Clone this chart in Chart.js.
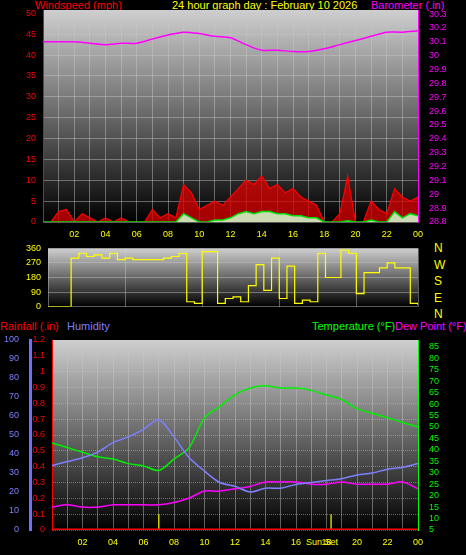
<!DOCTYPE html>
<html>
<head>
<meta charset="utf-8">
<script src="https://cdn.jsdelivr.net/npm/chart.js@4.4.1/dist/chart.umd.min.js"></script>
<style>
  body { margin: 0; background: #000; width: 466px; height: 555px; overflow: hidden; position: relative; font-family: "Liberation Sans", Arial, sans-serif; }
  canvas { position: absolute; left: 0; }
  .lbl { position: absolute; font-size: 11px; white-space: nowrap; line-height: 11px; }
</style>
</head>
<body>
<div class="lbl" style="left:35px;top:0;color:#ff0000">Windspeed (mph)</div>
<div class="lbl" style="left:172px;top:0;color:#ffff00">24 hour graph day : February 10 2026</div>
<div class="lbl" style="left:371px;top:0;color:#ff00ff">Barometer (.in)</div>
<div class="lbl" style="left:434px;top:240px;color:#ffff00;line-height:16.5px;font-size:12px">N<br>W<br>S<br>E<br>N</div>
<div class="lbl" style="left:0;top:321px;color:#ff0000">Rainfall (.in)</div>
<div class="lbl" style="left:67px;top:321px;color:#7f7fff">Humidity</div>
<div class="lbl" style="left:312px;top:321px;color:#00ff00">Temperature (°F)</div>
<div class="lbl" style="left:395px;top:321px;color:#ff00ff">Dew Point (°F)</div>
<div class="lbl" style="left:306px;top:537px;color:#ffff00;font-size:9px">Sun Set</div>

<canvas id="c1" width="466" height="240" style="top:0"></canvas>
<canvas id="c2" width="466" height="75" style="top:240px"></canvas>
<canvas id="c3" width="466" height="230" style="top:325px"></canvas>

<script>
// Data
const halfHours = [];
for (let i = 0; i <= 48; i++) halfHours.push(i / 2);
const hours = [0,1,2,3,4,5,6,7,8,9,10,11,12,13,14,15,16,17,18,19,20,21,22,23,24];

const windGust = [0,0,2.5,3,0,2,1,0,1,0,1,0,0,0,3,1,2,1,9,7,3,4,5,4,6,8,10,9,11,8,9,7,8,6,5,4,0,0,2,11,0,0,5,3,2,8,6,5,6];
const windAvg = [0,0,0,0,0,0,0,0,0,0,0,0,0,0,0,0,0,0,2,1,0,0,0.5,0.5,1,2,2.5,2,2.5,2.5,2,2,1.5,1.5,1,1,0,0,0,0.3,0,0,0.5,0,0,2.5,1,2,1.5];
const baro = [30.1,30.1,30.1,30.09,30.08,30.09,30.09,30.12,30.15,30.17,30.16,30.14,30.13,30.08,30.04,30.04,30.03,30.03,30.05,30.08,30.11,30.14,30.17,30.17,30.18];
const windDir = [0,0,0,300,330,310,320,300,330,290,300,290,290,290,290,300,310,330,30,20,340,340,20,50,60,30,130,260,100,300,50,250,20,40,30,330,180,180,350,330,80,210,210,240,270,240,240,20,10];
const humidity = [34,36,38,41,46,49,53,58,49,38,31,25,23,20,22,22,24,25,26,27,29,30,32,33,35];
const temperature = [43,41,39,37,36,34,33,31,36,41,54,59,64,67,68,67,67,66,64,62,58,56,54,52,50];
const dewPoint = [15,16,15,15,16,16,16,16,17,19,22,22,23,24,26,26,26,25,25,26,25,25,25,26,23];
const rainfall = [0,0,0,0,0,0,0,0,0,0,0,0,0,0,0,0,0,0,0,0,0,0,0,0,0];
const sunMarks = [7.0, 18.3];

const windTicks = [0,5,10,15,20,25,30,35,40,45,50];
const baroTicks = [28.8,28.9,29,29.1,29.2,29.3,29.4,29.5,29.6,29.7,29.8,29.9,30,30.1,30.2,30.3];
const dirTicks = [0,90,180,270,360];
const rainTicks = [0,0.1,0.2,0.3,0.4,0.5,0.6,0.7,0.8,0.9,1,1.1,1.2];
const humTicks = [0,10,20,30,40,50,60,70,80,90,100];
const tempTicks = [5,10,15,20,25,30,35,40,45,50,55,60,65,70,75,80,85];

const pts = (xs, ys) => ys.map((y, i) => ({ x: xs[i], y }));
const font = { family: "Liberation Sans, Arial, sans-serif", size: 9 };

const bgPlugin = {
  id: "bg",
  beforeDraw(chart) {
    const a = chart.chartArea, ctx = chart.ctx;
    const g = ctx.createLinearGradient(0, a.top, 0, a.bottom);
    g.addColorStop(0, "#cfcfcf");
    g.addColorStop(1, "#000000");
    ctx.save();
    ctx.fillStyle = g;
    ctx.fillRect(a.left, a.top, a.right - a.left, a.bottom - a.top);
    ctx.restore();
  }
};

function fixW(w) { return s => { s.width = w; }; }
function fixH(h) { return s => { s.height = h; }; }
function useTicks(list) { return s => { s.ticks = list.map(v => ({ value: v })); }; }

const grid = { color: "rgba(200,200,200,0.45)", tickLength: 4, tickColor: "rgba(0,0,0,0)" };
const yAxis = (min, max, list, color, pos, w, showGrid) => ({
  min, max, position: pos, afterFit: fixW(w), afterBuildTicks: useTicks(list),
  grid: showGrid ? { ...grid } : { display: false },
  border: { color },
  ticks: { color, font, autoSkip: false, callback: v => String(v) }
});
const xAxis = (show, h) => ({
  type: "linear", min: 0, max: 24,
  afterFit: fixH(h),
  grid: { ...grid, display: true },
  border: { display: false },
  ticks: { display: show, stepSize: 1, color: "#ffff00", font, autoSkip: false, maxRotation: 0,
    callback: v => (v % 2 === 0 && v > 0) ? String(v % 24).padStart(2, "0") : "" }
});

const base = { responsive: false, animation: false, events: [],
  plugins: { legend: { display: false }, tooltip: { enabled: false } },
  elements: { point: { radius: 0 } } };

// Top: wind + barometer
new Chart(document.getElementById("c1"), {
  type: "line",
  plugins: [bgPlugin],
  data: { datasets: [
    { data: pts(halfHours, windAvg), borderColor: "#00dd00", borderWidth: 1.5, fill: "origin", backgroundColor: "rgba(210,255,210,0.85)", yAxisID: "y", order: 1 },
    { data: pts(halfHours, windGust), borderColor: "#ff0000", borderWidth: 1.2, fill: "origin", backgroundColor: "rgba(220,0,0,0.75)", yAxisID: "y", order: 2 },
    { data: pts(hours, baro), borderColor: "#ff00ff", borderWidth: 1.5, tension: 0.3, yAxisID: "y1", order: 0 }
  ]},
  options: { ...base, layout: { padding: { top: 10 } },
    scales: {
      x: xAxis(true, 18),
      y: yAxis(0, 50.8, windTicks, "#ff0000", "left", 43, true),
      y1: yAxis(28.8, 30.33, baroTicks, "#ff00ff", "right", 48, false)
    } }
});

// Middle: wind direction
new Chart(document.getElementById("c2"), {
  type: "line",
  plugins: [bgPlugin],
  data: { datasets: [
    { data: pts(halfHours, windDir), borderColor: "#ffff00", borderWidth: 1.2, stepped: true }
  ]},
  options: { ...base, layout: { padding: { top: 5, right: 48 } },
    scales: {
      x: { ...xAxis(false, 3), ticks: { display: false } },
      y: { ...yAxis(0, 360, dirTicks, "#ffff00", "left", 48, true), border: { display: false } }
    } }
});

// Bottom: rain, humidity, temperature, dew point
const sunPts = [];
sunMarks.forEach(x => { sunPts.push({ x, y: 0 }, { x, y: 0.1 }, { x, y: null }); });
new Chart(document.getElementById("c3"), {
  type: "line",
  plugins: [bgPlugin],
  data: { datasets: [
    { data: pts(hours, rainfall), borderColor: "#ff0000", borderWidth: 3, yAxisID: "rain" },
    { data: sunPts, borderColor: "#cccc00", borderWidth: 1.5, yAxisID: "rain", spanGaps: false },
    { data: pts(hours, humidity), borderColor: "#7f7fff", borderWidth: 1.5, tension: 0.3, yAxisID: "hum" },
    { data: pts(hours, temperature), borderColor: "#00ee00", borderWidth: 1.5, tension: 0.3, yAxisID: "temp" },
    { data: pts(hours, dewPoint), borderColor: "#ff00ff", borderWidth: 1.5, tension: 0.3, yAxisID: "temp" }
  ]},
  options: { ...base, layout: { padding: { top: 15 } },
    scales: {
      x: xAxis(true, 25),
      rain: { ...yAxis(0, 1.2, rainTicks, "#ff0000", "left", 22, true), border: { color: "#ff0000", dash: [1, 1] } },
      hum: { ...yAxis(0, 100, humTicks, "#7f7fff", "left", 30, false), border: { color: "#6f6fff", width: 3 } },
      temp: yAxis(5, 88, tempTicks, "#00ff00", "right", 48, false)
    } }
});
</script>
</body>
</html>
